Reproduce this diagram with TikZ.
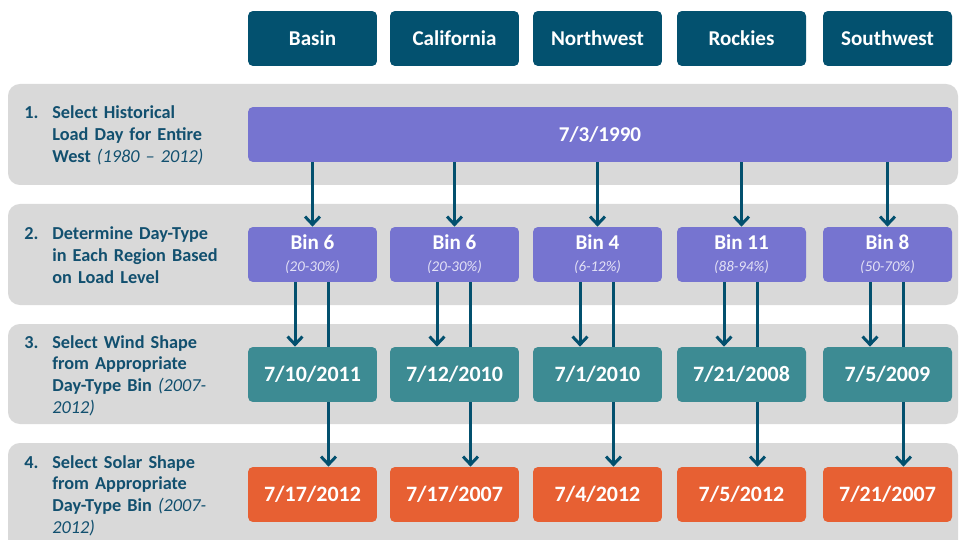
\documentclass[tikz,border=0pt]{standalone}
\usepackage{fontspec}
\setmainfont{Carlito}
\usetikzlibrary{arrows.meta}
\definecolor{hdrblue}{HTML}{03516F}
\definecolor{bandgray}{HTML}{D9D9D9}
\definecolor{binpurp}{HTML}{7674D0}
\definecolor{windteal}{HTML}{3D8B93}
\definecolor{solorange}{HTML}{E76033}
\definecolor{stepcol}{HTML}{12506F}
\definecolor{arrcol}{HTML}{03506E}
\definecolor{pctcol}{HTML}{E4E2F6}
\newcommand{\binpct}[1]{{\fontsize{8.5}{10}\selectfont\mdseries\itshape\color{pctcol}#1}}
\pgfdeclarelayer{back}
\pgfsetlayers{back,main}

\begin{document}
\begin{tikzpicture}[
  x=0.02cm, y=-0.02cm,
  box/.style={rounded corners=2.8pt, minimum width=2.58cm,
    minimum height=1.1cm, inner sep=2pt, text=white,
    font=\fontsize{12}{14}\selectfont\bfseries},
  hdr/.style={box, fill=hdrblue},
  bin/.style={box, fill=binpurp, align=center,
    font=\fontsize{12}{12.5}\selectfont\bfseries},
  wind/.style={box, fill=windteal, font=\fontsize{12.5}{15}\selectfont\bfseries},
  sol/.style={box, fill=solorange, font=\fontsize{12.5}{15}\selectfont\bfseries},
  band/.style={fill=bandgray, rounded corners=6.8pt},
  stepnum/.style={anchor=base west, inner sep=0pt, text=stepcol,
    font=\fontsize{10.4}{12.5}\selectfont\bfseries},
  steptxt/.style={stepnum, text width=4.2cm, align=left},
  arr/.style={-{Straight Barb[length=4.5pt,width=8.5pt]}, line width=1.7pt, arrcol}
]
\useasboundingbox (0,0) rectangle (959,540);
\begin{pgfonlayer}{back}
\fill[band] (8,84) rectangle (958,185);
\fill[band] (8,204) rectangle (958,305);
\fill[band] (8,324) rectangle (958,424);
\fill[band] (8,443) rectangle (958,560);
\end{pgfonlayer}

\node[stepnum] (n1) at (24,119) {1.};
\node[steptxt] (t1) at (52,119)
  {Select Historical\\Load Day for Entire\\West {\mdseries\itshape (1980 -- 2012)}};
\node[stepnum] (n2) at (24,240) {2.};
\node[steptxt] (t2) at (52,240)
  {Determine Day-Type\\in Each Region Based\\on Load Level};
\node[stepnum] (n3) at (24,348) {3.};
\node[steptxt] (t3) at (52,348)
  {Select Wind Shape\\from Appropriate\\Day-Type Bin {\mdseries\itshape (2007-}\\{\mdseries\itshape 2012)}};
\node[stepnum] (n4) at (24,468) {4.};
\node[steptxt] (t4) at (52,468)
  {Select Solar Shape\\from Appropriate\\Day-Type Bin {\mdseries\itshape (2007-}\\{\mdseries\itshape 2012)}};

\node[hdr] (h1) at (312.5,38.5) {Basin};
\node[hdr] (h2) at (454.5,38.5) {California};
\node[hdr] (h3) at (597.5,38.5) {Northwest};
\node[hdr] (h4) at (741.5,38.5) {Rockies};
\node[hdr] (h5) at (887.5,38.5) {Southwest};

\node[box, fill=binpurp, minimum width=14.08cm] (day) at (600,134.5) {7/3/1990};

\node[bin] (b1) at (312.5,254.5) {Bin 6\\\binpct{(20-30\%)}};
\node[bin] (b2) at (454.5,254.5) {Bin 6\\\binpct{(20-30\%)}};
\node[bin] (b3) at (597.5,254.5) {Bin 4\\\binpct{(6-12\%)}};
\node[bin] (b4) at (741.5,254.5) {Bin 11\\\binpct{(88-94\%)}};
\node[bin] (b5) at (887.5,254.5) {Bin 8\\\binpct{(50-70\%)}};

\node[wind] (w1) at (312.5,374.5) {7/10/2011};
\node[wind] (w2) at (454.5,374.5) {7/12/2010};
\node[wind] (w3) at (597.5,374.5) {7/1/2010};
\node[wind] (w4) at (741.5,374.5) {7/21/2008};
\node[wind] (w5) at (887.5,374.5) {7/5/2009};

\node[sol] (s1) at (312.5,494.5) {7/17/2012};
\node[sol] (s2) at (454.5,494.5) {7/17/2007};
\node[sol] (s3) at (597.5,494.5) {7/4/2012};
\node[sol] (s4) at (741.5,494.5) {7/5/2012};
\node[sol] (s5) at (887.5,494.5) {7/21/2007};

\draw[arr] (day.south -| b1.north) -- (b1.north);
\draw[arr] (day.south -| b2.north) -- (b2.north);
\draw[arr] (day.south -| b3.north) -- (b3.north);
\draw[arr] (day.south -| b4.north) -- (b4.north);
\draw[arr] (day.south -| b5.north) -- (b5.north);

\draw[arr] ([xshift=-0.35cm]b1.south) -- ([xshift=-0.35cm]w1.north);
\draw[arr] ([xshift=-0.35cm]b2.south) -- ([xshift=-0.35cm]w2.north);
\draw[arr] ([xshift=-0.35cm]b3.south) -- ([xshift=-0.35cm]w3.north);
\draw[arr] ([xshift=-0.35cm]b4.south) -- ([xshift=-0.35cm]w4.north);
\draw[arr] ([xshift=-0.35cm]b5.south) -- ([xshift=-0.35cm]w5.north);

\begin{pgfonlayer}{back}
\draw[arr] ([xshift=0.32cm]b1.south) -- ([xshift=0.32cm]s1.north);
\draw[arr] ([xshift=0.32cm]b2.south) -- ([xshift=0.32cm]s2.north);
\draw[arr] ([xshift=0.32cm]b3.south) -- ([xshift=0.32cm]s3.north);
\draw[arr] ([xshift=0.32cm]b4.south) -- ([xshift=0.32cm]s4.north);
\draw[arr] ([xshift=0.32cm]b5.south) -- ([xshift=0.32cm]s5.north);
\end{pgfonlayer}
\end{tikzpicture}
\end{document}
